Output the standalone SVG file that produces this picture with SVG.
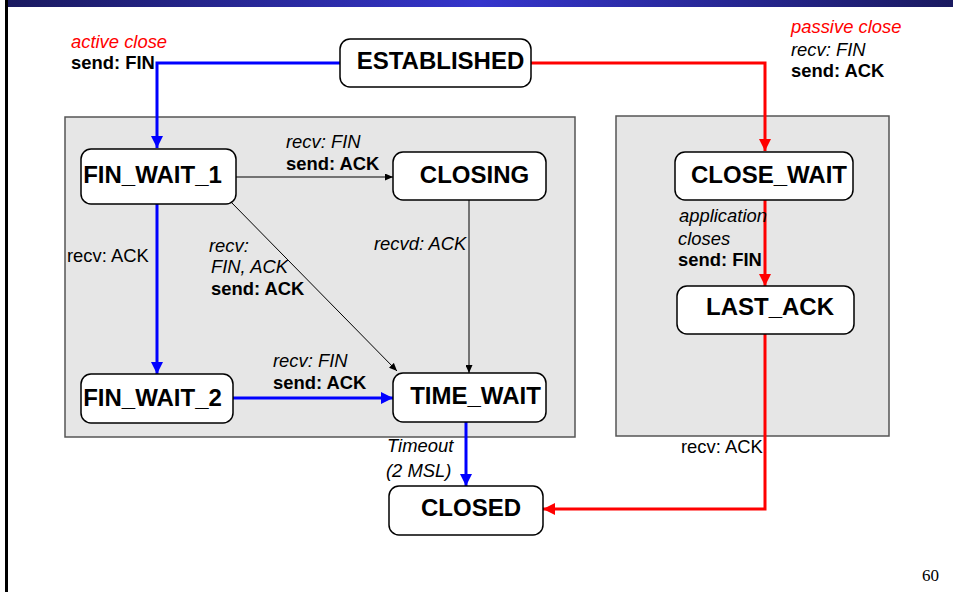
<svg xmlns="http://www.w3.org/2000/svg" width="953" height="592" viewBox="0 0 953 592">
<defs>
<linearGradient id="bar" x1="0" y1="0" x2="1" y2="0">
<stop offset="0" stop-color="#1a1a60"/>
<stop offset="0.5" stop-color="#3535cc"/>
<stop offset="1" stop-color="#1a1a60"/>
</linearGradient>
<marker id="ab" viewBox="0 0 12 12" refX="12" refY="6" markerWidth="12" markerHeight="12" markerUnits="userSpaceOnUse" orient="auto"><path d="M0,0 L12,6 L0,12 z" fill="#0000ff"/></marker>
<marker id="ar" viewBox="0 0 12 12" refX="12" refY="6" markerWidth="12" markerHeight="12" markerUnits="userSpaceOnUse" orient="auto"><path d="M0,0 L12,6 L0,12 z" fill="#ff0000"/></marker>
<marker id="ak" viewBox="0 0 8 7" refX="8" refY="3.5" markerWidth="8" markerHeight="7" markerUnits="userSpaceOnUse" orient="auto"><path d="M0,0 L8,3.5 L0,7 z" fill="#000"/></marker>
</defs>
<style>
.node rect{fill:#fff;stroke:#000;stroke-width:1.5}
.node text{font-family:"Liberation Sans",Arial,sans-serif;font-weight:bold;font-size:24px;text-anchor:middle;fill:#000}
.grp{fill:#e6e6e6;stroke:#555;stroke-width:1.5}
.lbl{font-family:"Liberation Sans",Arial,sans-serif;font-size:18.4px;fill:#000}
.it{font-style:italic}
.b{font-weight:bold}
.red{fill:#ff0000}
.blue{fill:none;stroke:#0000ff;stroke-width:3}
.redl{fill:none;stroke:#ff0000;stroke-width:3}
.blk{fill:none;stroke:#000;stroke-width:1}
</style>
<rect x="0" y="0" width="953" height="592" fill="#fff"/>
<rect x="8" y="0" width="945" height="7" fill="url(#bar)"/>
<rect x="5" y="0" width="3" height="592" fill="#000"/>
<rect class="grp" x="65" y="117" width="510" height="320"/>
<rect class="grp" x="616" y="116" width="273" height="320"/>
<g id="connectors">
<path class="blue" d="M340,63 H157 V148" marker-end="url(#ab)"/>
<path class="redl" d="M531,63 H765 V151" marker-end="url(#ar)"/>
<path class="blk" d="M236,177 H393" marker-end="url(#ak)"/>
<path class="blk" d="M230,201 L397,371" marker-end="url(#ak)"/>
<path class="blk" d="M469,200 V373" marker-end="url(#ak)"/>
<path class="blue" d="M157,204 V374" marker-end="url(#ab)"/>
<path class="blue" d="M233,398 H393" marker-end="url(#ab)"/>
<path class="blue" d="M466,422 V486" marker-end="url(#ab)"/>
<path class="redl" d="M765,200 V286" marker-end="url(#ar)"/>
<path class="redl" d="M765,334 V509 H543" marker-end="url(#ar)"/>
</g>
<g id="labels">
<text class="lbl it red" x="71" y="48">active close</text>
<text class="lbl b" x="71" y="69">send: FIN</text>
<text class="lbl it red" x="791" y="33">passive close</text>
<text class="lbl it" x="791" y="56">recv: FIN</text>
<text class="lbl b" x="791" y="77">send: ACK</text>
<text class="lbl it" x="286" y="148">recv: FIN</text>
<text class="lbl b" x="286" y="170">send: ACK</text>
<text class="lbl" x="67" y="262">recv: ACK</text>
<text class="lbl it" x="209" y="252">recv:</text>
<text class="lbl it" x="211" y="273">FIN, ACK</text>
<text class="lbl b" x="211" y="295">send: ACK</text>
<text class="lbl it" x="374" y="250">recvd: ACK</text>
<text class="lbl it" x="679" y="222">application</text>
<text class="lbl it" x="678" y="245">closes</text>
<text class="lbl b" x="678" y="266">send: FIN</text>
<text class="lbl it" x="273" y="367">recv: FIN</text>
<text class="lbl b" x="273" y="389">send: ACK</text>
<text class="lbl it" x="387" y="452">Timeout</text>
<text class="lbl it" x="386" y="477">(2 MSL)</text>
<text class="lbl" x="681" y="453">recv: ACK</text>
<text x="922" y="581" font-family="Liberation Serif,'Times New Roman',serif" font-size="17" fill="#000">60</text>
</g>
<g id="ESTABLISHED" class="node"><rect x="340" y="39" width="191" height="48" rx="10"/><text x="440.5" y="69">ESTABLISHED</text></g>
<g id="FIN_WAIT_1" class="node"><rect x="81" y="149" width="155" height="55" rx="10"/><text x="152.5" y="183">FIN_WAIT_1</text></g>
<g id="CLOSING" class="node"><rect x="393" y="152" width="153" height="48" rx="10"/><text x="474.5" y="183">CLOSING</text></g>
<g id="CLOSE_WAIT" class="node"><rect x="675" y="152" width="178" height="48" rx="10"/><text x="769" y="183">CLOSE_WAIT</text></g>
<g id="LAST_ACK" class="node"><rect x="677" y="286" width="177" height="48" rx="10"/><text x="770" y="315">LAST_ACK</text></g>
<g id="FIN_WAIT_2" class="node"><rect x="81" y="374" width="152" height="49" rx="10"/><text x="152.5" y="406">FIN_WAIT_2</text></g>
<g id="TIME_WAIT" class="node"><rect x="393" y="373" width="153" height="49" rx="10"/><text x="475.5" y="404">TIME_WAIT</text></g>
<g id="CLOSED" class="node"><rect x="389" y="486" width="154" height="49" rx="10"/><text x="471" y="516">CLOSED</text></g>
</svg>
